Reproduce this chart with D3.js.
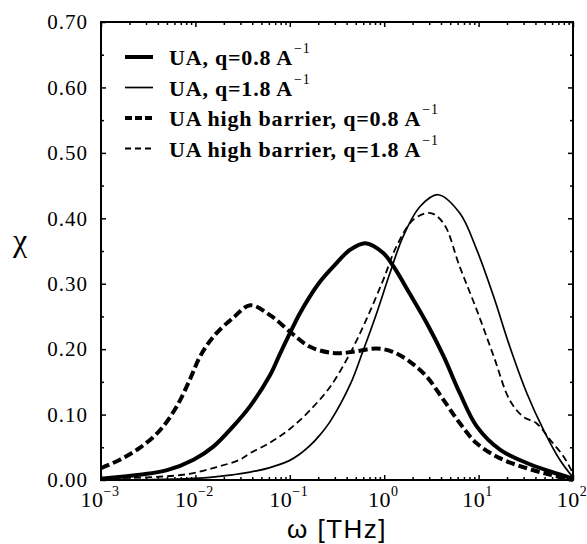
<!DOCTYPE html>
<html>
<head>
<meta charset="utf-8">
<script src="https://cdn.jsdelivr.net/npm/d3@7"></script>
<style>
  body { margin: 0; background: #fff; }
  svg { display: block; }
</style>
</head>
<body>
<svg id="chart" width="587" height="544"></svg>
<script>
// curves: [log10(omega / THz), chi]
const uaLow = [[-3, 0.002], [-2.59, 0.008], [-2.30, 0.015], [-2.02, 0.031], [-1.81, 0.051], [-1.60, 0.082],
  [-1.42, 0.113], [-1.21, 0.160], [-1.11, 0.191], [-1.0, 0.224], [-0.90, 0.253], [-0.79, 0.280],
  [-0.68, 0.303], [-0.54, 0.326], [-0.36, 0.352], [-0.20, 0.362], [-0.01, 0.347], [0.10, 0.326],
  [0.27, 0.285], [0.45, 0.240], [0.63, 0.189], [0.80, 0.133], [0.98, 0.082], [1.23, 0.046],
  [1.51, 0.026], [1.76, 0.013], [2, 0.002]];

const uaHigh = [[-3, 0.0], [-1.95, 0.003], [-1.6, 0.008], [-1.42, 0.012], [-1.21, 0.019], [-1.0, 0.030],
  [-0.90, 0.039], [-0.79, 0.052], [-0.68, 0.069], [-0.57, 0.090], [-0.36, 0.146], [-0.22, 0.199],
  [-0.08, 0.255], [0.06, 0.316], [0.20, 0.372], [0.38, 0.418], [0.57, 0.436], [0.80, 0.408],
  [0.98, 0.352], [1.16, 0.280], [1.33, 0.204], [1.51, 0.133], [1.69, 0.076], [1.86, 0.031], [2, 0.004]];

const barrierLow = [[-3, 0.018], [-2.80, 0.031], [-2.59, 0.049], [-2.375, 0.076], [-2.20, 0.112],
  [-2.06, 0.153], [-1.95, 0.189], [-1.81, 0.219], [-1.60, 0.248], [-1.42, 0.267], [-1.21, 0.252],
  [-1.0, 0.227], [-0.79, 0.204], [-0.54, 0.194], [-0.33, 0.196], [-0.08, 0.201], [0.09, 0.196],
  [0.27, 0.181], [0.45, 0.158], [0.63, 0.122], [0.80, 0.087], [0.98, 0.056], [1.23, 0.033],
  [1.51, 0.018], [1.76, 0.008], [2, 0.0]];

const barrierHigh = [[-3, 0.002], [-2.13, 0.008], [-1.77, 0.020], [-1.53, 0.031], [-1.42, 0.041],
  [-1.21, 0.057], [-1.0, 0.078], [-0.79, 0.106], [-0.57, 0.143], [-0.36, 0.194], [-0.19, 0.245],
  [-0.01, 0.306], [0.13, 0.357], [0.31, 0.398], [0.49, 0.408], [0.63, 0.392], [0.80, 0.326],
  [0.98, 0.260], [1.16, 0.189], [1.33, 0.122], [1.47, 0.097], [1.61, 0.087], [1.76, 0.061],
  [1.90, 0.036], [2, 0.01]];

const legendLabels = ["UA, q=0.8 A", "UA, q=1.8 A", "UA high barrier, q=0.8 A", "UA high barrier, q=1.8 A"];
const yTicks = [0, 0.1, 0.2, 0.3, 0.4, 0.5, 0.6, 0.7];
const yMinor = [0.05, 0.15, 0.25, 0.35, 0.45, 0.55, 0.65];
const xDecades = [-3, -2, -1, 0, 1, 2];

const series = [
  { data: uaLow, width: 4, dash: null },
  { data: uaHigh, width: 1.7, dash: null },
  { data: barrierLow, width: 4, dash: "9,4" },
  { data: barrierHigh, width: 1.8, dash: "7,4" },
];

const serif = "'Liberation Serif', 'Times New Roman', Times, serif";
const W = 587, H = 544;
const margin = { top: 22, right: 14, bottom: 64, left: 101 };
const svg = d3.select("#chart");

const x = d3.scaleLog().domain([1e-3, 1e2]).range([margin.left, W - margin.right]);
const y = d3.scaleLinear().domain([0, 0.7]).range([H - margin.bottom, margin.top]);

const line = d3.line()
  .x((d) => x(Math.pow(10, d[0])))
  .y((d) => y(d[1]))
  .curve(d3.curveCatmullRom.alpha(0.5));

const plot = svg.append("g");
plot.selectAll("path.curve")
  .data(series)
  .join("path")
  .attr("class", "curve")
  .attr("fill", "none")
  .attr("stroke", "#000")
  .attr("stroke-width", (d) => d.width)
  .attr("stroke-dasharray", (d) => d.dash)
  .attr("stroke-linejoin", "round")
  .attr("d", (d) => line(d.data));

// y axes, ticks pointing inward
const yLeft = svg.append("g")
  .attr("transform", `translate(${margin.left},0)`)
  .call(d3.axisLeft(y).tickValues(yTicks).tickSize(-5).tickPadding(13).tickFormat(d3.format(".2f")));
yLeft.selectAll("text")
  .style("font-family", serif)
  .attr("font-size", 21)
  .attr("letter-spacing", 1)
  .attr("fill", "#000");

svg.append("g")
  .attr("transform", `translate(${margin.left},0)`)
  .call(d3.axisLeft(y).tickValues(yMinor).tickSize(-3).tickFormat(""));
svg.append("g")
  .attr("transform", `translate(${W - margin.right},0)`)
  .call(d3.axisRight(y).tickValues(yTicks).tickSize(-5).tickFormat(""));
svg.append("g")
  .attr("transform", `translate(${W - margin.right},0)`)
  .call(d3.axisRight(y).tickValues(yMinor).tickSize(-3).tickFormat(""));

// x axes (log): decades get longer ticks
const allX = x.ticks();
const isDecade = (v) => Math.abs(Math.log10(v) - Math.round(Math.log10(v))) < 1e-6;
svg.append("g")
  .attr("transform", `translate(0,${H - margin.bottom})`)
  .call(d3.axisBottom(x).tickValues(allX).tickSizeInner(0).tickFormat(""))
  .selectAll(".tick line").attr("y2", (d) => (isDecade(d) ? -5 : -3));
svg.append("g")
  .attr("transform", `translate(0,${margin.top})`)
  .call(d3.axisTop(x).tickValues(allX).tickSizeInner(0).tickFormat(""))
  .selectAll(".tick line").attr("y2", (d) => (isDecade(d) ? 5 : 3));

svg.selectAll(".domain").remove();
svg.selectAll(".tick line").attr("stroke", "#000").attr("stroke-width", 1.5);

// frame
svg.append("rect")
  .attr("x", margin.left).attr("y", margin.top)
  .attr("width", W - margin.left - margin.right)
  .attr("height", H - margin.top - margin.bottom)
  .attr("fill", "none").attr("stroke", "#000").attr("stroke-width", 2);

// x tick labels 10^n
const xl = svg.append("g")
  .style("font-family", serif)
  .attr("fill", "#000");
xDecades.forEach((p) => {
  const t = xl.append("text")
    .attr("x", x(Math.pow(10, p)) - 1)
    .attr("y", 507)
    .attr("text-anchor", "middle")
    .attr("font-size", 22)
    .attr("letter-spacing", 0.5);
  t.append("tspan").text("10");
  t.append("tspan").attr("font-size", 14).attr("dy", -11).text(p < 0 ? "\u2212" + -p : p);
});

// axis titles
svg.append("text")
  .attr("x", (margin.left + W - margin.right) / 2)
  .attr("y", 538)
  .attr("text-anchor", "middle")
  .style("font-family", "'Liberation Sans', Arial, sans-serif")
  .attr("font-size", 26)
  .attr("letter-spacing", 1.5)
  .text("\u03c9 [THz]");

svg.append("text")
  .attr("x", 20)
  .attr("y", 251)
  .attr("text-anchor", "middle")
  .style("font-family", serif)
  .attr("font-size", 32)
  .text("\u03c7");

// legend
const legend = svg.append("g");
const rows = legend.selectAll("g")
  .data(series)
  .join("g")
  .attr("transform", (d, i) => `translate(0,${65 + i * 30.5})`);
rows.append("line")
  .attr("x1", 125).attr("x2", 153)
  .attr("y1", -8).attr("y2", -8)
  .attr("stroke", "#000")
  .attr("stroke-width", (d) => d.width)
  .attr("stroke-dasharray", (d) => (d.dash ? (d.width > 2 ? "7,3" : "6,4") : null));
const lt = rows.append("text")
  .attr("x", 169)
  .style("font-family", serif)
  .attr("font-weight", "bold")
  .attr("font-size", 22)
  .attr("letter-spacing", 0.8);
lt.append("tspan").text((d, i) => legendLabels[i]);
lt.append("tspan").attr("font-size", 14).attr("font-weight", "normal").attr("dy", -12).attr("dx", 1).text("\u22121");
</script>
</body>
</html>
